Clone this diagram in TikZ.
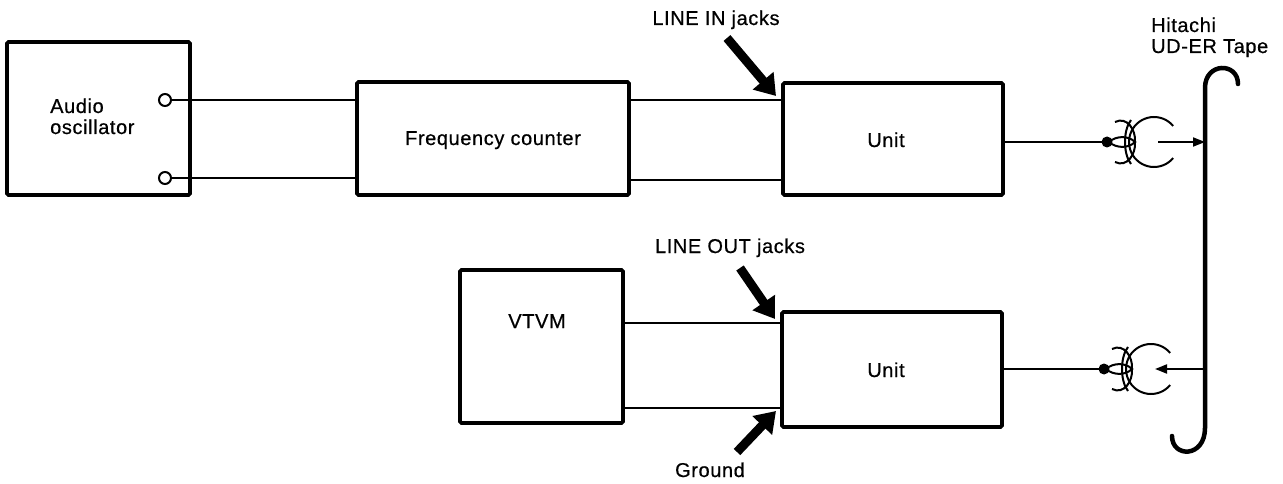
\documentclass[tikz,border=0pt]{standalone}
\usepackage{fontspec}
\setmainfont{Liberation Sans}[LetterSpace=3,FakeBold=0.6]
\usetikzlibrary{arrows.meta}
\begin{document}
\begin{tikzpicture}[x=1pt,y=-1pt,
  box/.style={draw,line width=3.6pt,rounded corners=1.5pt,minimum width=#1,inner sep=0pt},
  wire/.style={line width=1.8pt},
  lbl/.style={font=\fontsize{20}{24}\selectfont,inner sep=0pt,anchor=base},
  fatarrow/.style={line width=9pt,-{Triangle[length=20pt,width=26pt]}},
  term/.style={circle,draw,line width=2pt,minimum size=12pt,inner sep=0pt,fill=white},
  tapehead/.pic={
    \fill (0,0) circle (5.5);
    \draw[line width=2pt] plot[smooth,samples=40,domain=40:320] ({47+25*cos(\x)},{25*sin(\x)});
    \draw[line width=2pt] (2,0) .. controls (10,-7) and (22,-6) .. (28,0) .. controls (22,6) and (10,7) .. (2,0);
    \draw[line width=2pt] (24,-22) .. controls (16,-12) and (16,12) .. (24,22);
    \draw[line width=2pt] (8,-20) .. controls (20,-26) and (29,-12) .. (28,0);
    \draw[line width=2pt] (8,20) .. controls (20,26) and (29,12) .. (28,0);
  }]
\useasboundingbox (0,0) rectangle (1283,484);
% boxes
\node[box=183pt,minimum height=153pt] (osc) at (98.5,118.5) {};
\node[box=272pt,minimum height=113pt] (fc) at (493,138.5) {};
\node[box=220pt,minimum height=112pt] (u1) at (893,139) {};
\node[box=163pt,minimum height=153pt] (vtvm) at (541.5,346.5) {};
\node[box=220pt,minimum height=115pt] (u2) at (892,369.5) {};
% texts
\node[lbl,anchor=base west] (tosc1) at (50,113) {Audio};
\node[lbl,anchor=base west] (tosc2) at (50,134) {oscillator};
\node[lbl] (tfc) at (493,145) {Frequency counter};
\node[lbl] (tu1) at (886,147) {Unit};
\node[lbl] (tu2) at (886,377) {Unit};
\node[lbl] (tvtvm) at (537,328) {VTVM};
\node[lbl] (tin) at (716,25) {LINE IN jacks};
\node[lbl] (tout) at (730,253) {LINE OUT jacks};
\node[lbl] (tgnd) at (710,477) {Ground};
\node[lbl,anchor=base west] (thit) at (1151,32) {Hitachi};
\node[lbl,anchor=base west] (ttape) at (1151,53) {UD-ER Tape};
% terminals
\node[term] (t1) at (165,100) {};
\node[term] (t2) at (165,178) {};
% wires
\draw[wire] (t1.east) -- (t1.east -| fc.west);
\draw[wire] (t2.east) -- (t2.east -| fc.west);
\coordinate (a1) at (fc.east |- 0,100);
\coordinate (a2) at (fc.east |- 0,180);
\draw[wire] (a1) -- (a1 -| u1.west);
\draw[wire] (a2) -- (a2 -| u1.west);
\coordinate (b1) at (vtvm.east |- 0,323);
\coordinate (b2) at (vtvm.east |- 0,408);
\draw[wire] (b1) -- (b1 -| u2.west);
\draw[wire] (b2) -- (b2 -| u2.west);
% jack arrows
\coordinate (inTail) at (727,38);
\coordinate (inTip) at (776,96);
\draw[fatarrow] (inTail) -- (inTip);
\coordinate (outTail) at (740,268);
\coordinate (outTip) at (775,319);
\draw[fatarrow] (outTail) -- (outTip);
\coordinate (gTail) at (737,452);
\coordinate (gTip) at (776,411);
\draw[fatarrow] (gTail) -- (gTip);
% heads
\coordinate (h1) at (1107,142);
\coordinate (h2) at (1104,369);
\draw[wire] (u1.east |- h1) -- (h1);
\draw[wire] (u2.east |- h2) -- (h2);
\pic at (h1) {tapehead};
\pic at (h2) {tapehead};
% tape
\coordinate (tp1) at (1205,142);
\coordinate (tp2) at (1205,369);
\draw[line width=4.5pt,line cap=round] (1238,84) .. controls (1238,62) and (1205,62) .. (1205,88) -- (1205,428) .. controls (1205,458) and (1172,458) .. (1172,436);
\draw[wire,-{Triangle[length=12pt,width=9pt]}] (1158,142) -- (tp1);
\draw[wire,-{Triangle[length=12pt,width=9pt]}] (tp2) -- (1155,369);
\end{tikzpicture}
\end{document}
